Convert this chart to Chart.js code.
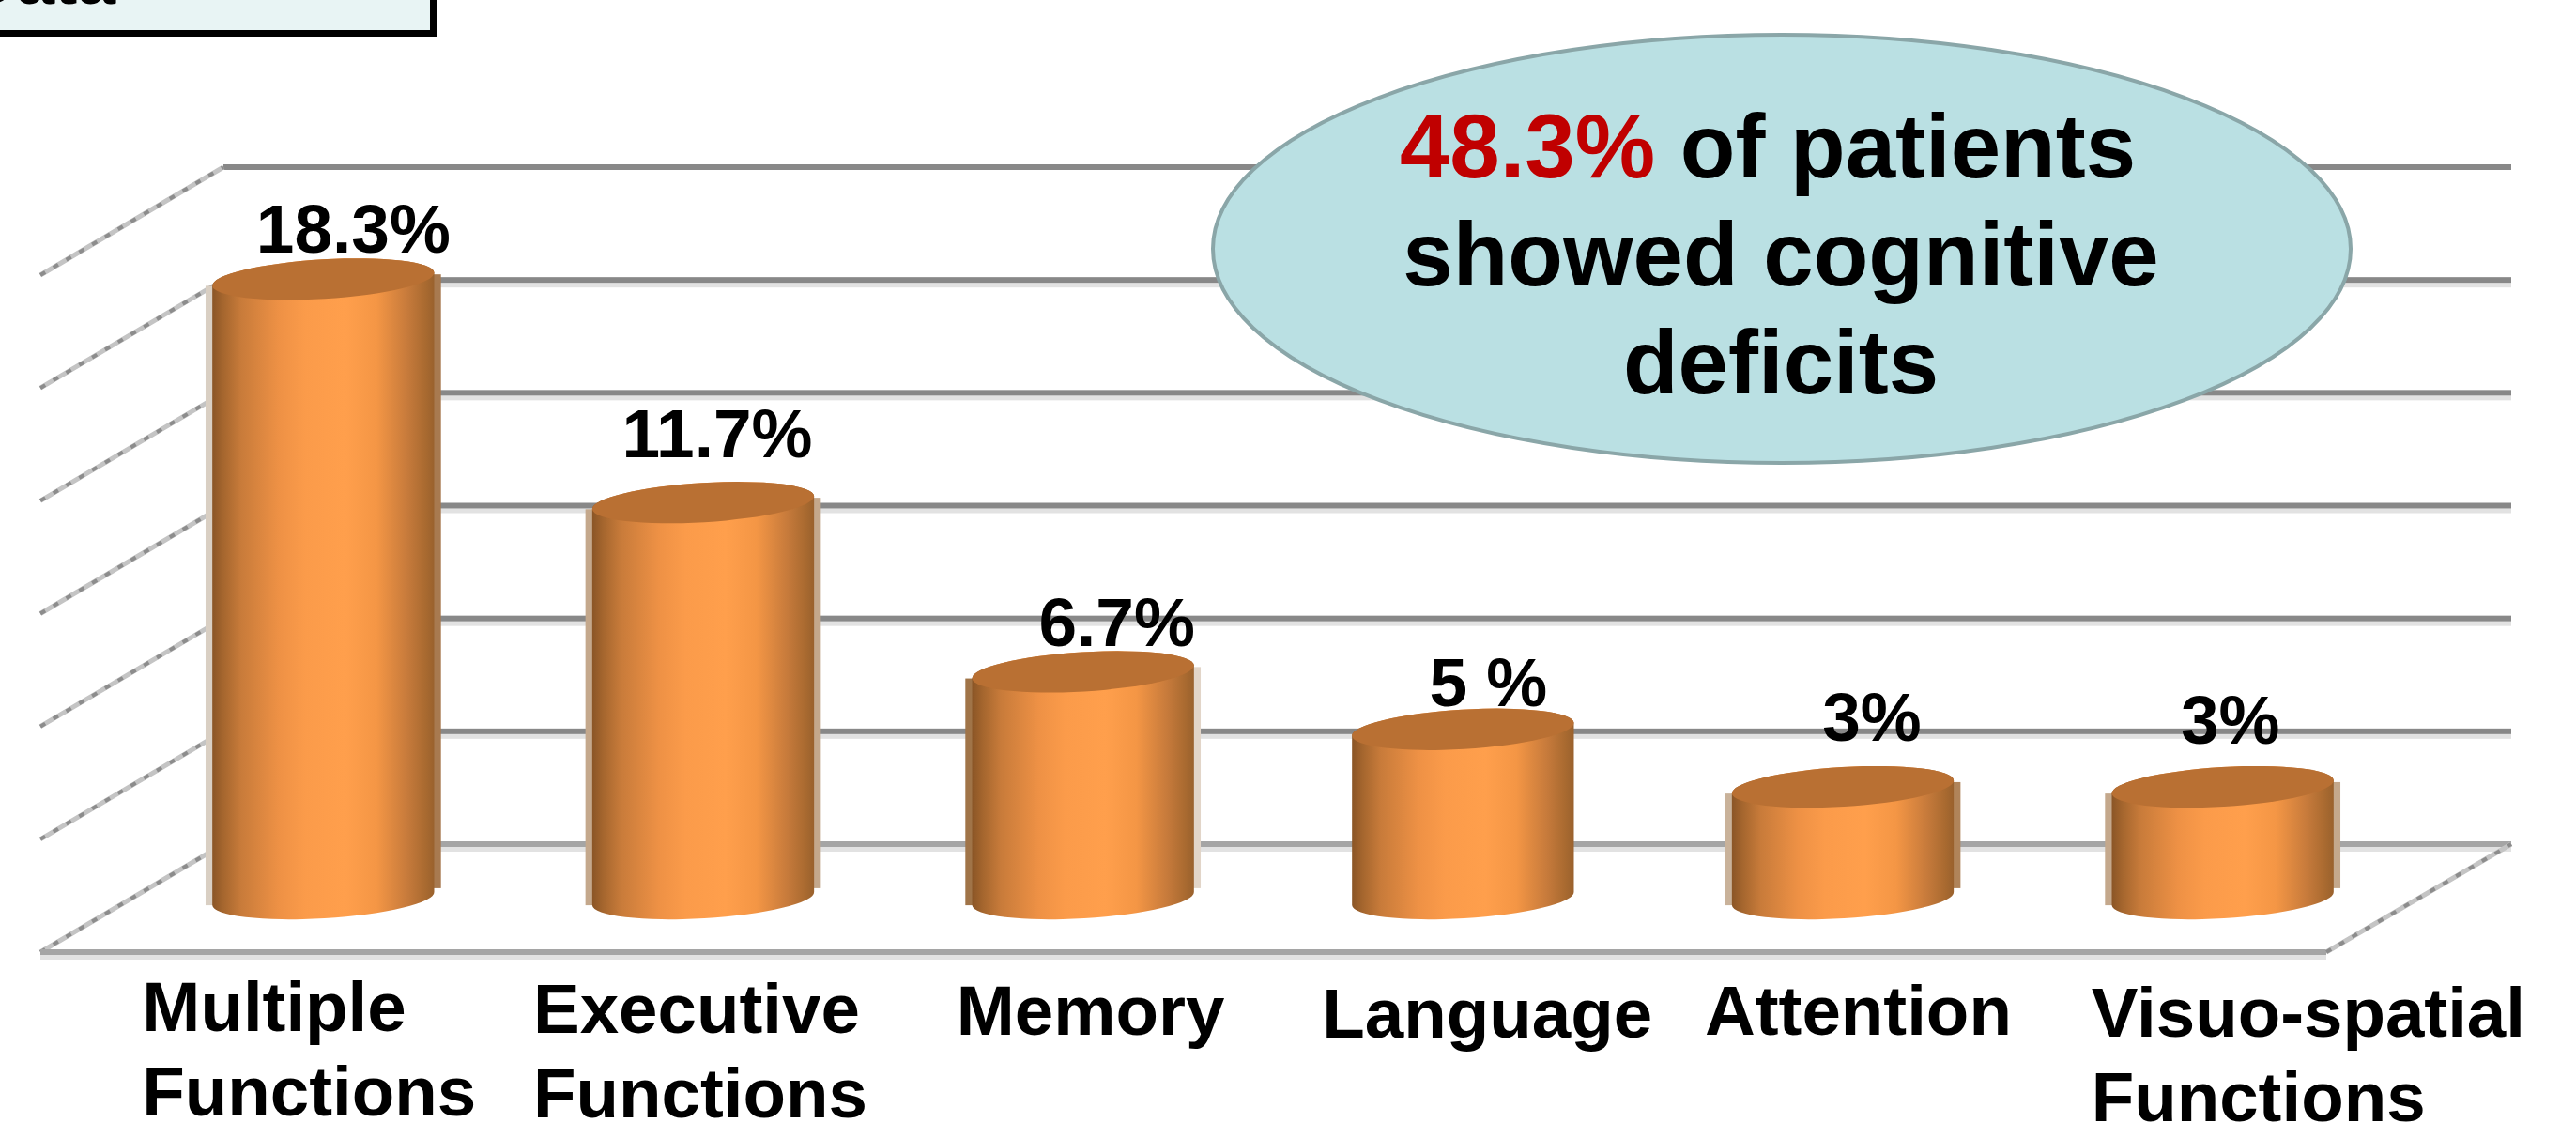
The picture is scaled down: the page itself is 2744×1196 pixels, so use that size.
<!DOCTYPE html>
<html>
<head>
<meta charset="utf-8">
<title>Cognitive deficits</title>
<script src="https://cdn.jsdelivr.net/npm/chart.js@4"></script>
<style>
    html, body { margin: 0; padding: 0; background: #fff; }
    canvas { display: block; }
</style>
</head>
<body>
<canvas id="chart" width="2744" height="1196"></canvas>
<script>
const categories = [['Multiple', 'Functions'], ['Executive', 'Functions'], ['Memory'], ['Language'], ['Attention'], ['Visuo-spatial', 'Functions']];
// the 3% columns are drawn about 3.3 high in the picture
const values = [18.3, 11.7, 6.7, 5, 3.3, 3.3];
const valueLabels = ['18.3%', '11.7%', '6.7%', '5 %', '3%', '3%'];
const noteLines = [[['48.3%', '#c00000'], [' of patients', '#000']], [['showed cognitive', '#000']], [['deficits', '#000']]];
const yMax = 20;
const yStep = 20 / 6;

// hand placed offsets, the source picture does not line these up with the bars
const valueShiftX = [32, 15, 36, 27, 31, 8];
const valueBaseline = [269, 487, 688, 752, 789, 792];
const tickShiftX = [-193, -181, -135, -150, -147, -140];
const tickBaseline = [1098, 1100, 1102, 1105, 1102, 1104];
const tickLineGap = 90;
const noteCenterX = [1883, 1897, 1897];
const haloLeft = ['#d9cfc3', '#c4a88c', '#a07448', null, '#c9b29a', '#c4a88c'];
const haloRight = ['#a87a50', '#c4a88c', '#e2d5c8', null, '#b0845a', '#c4a88c'];

const DEPTH_X = 195;
const DEPTH_Y = 115;
const BACK_LIFT = 58;
const WALL_LEFT = 238;
const WALL_RIGHT = 2675;
const CAP_RY = 21;
const CAP_TILT = -0.06;

function drawHLine(ctx, x1, x2, y, color, shadow) {
    if (shadow) {
        ctx.fillStyle = '#e2e2e2';
        ctx.fillRect(x1, y + 3, x2 - x1, 5);
    }
    ctx.fillStyle = color;
    ctx.fillRect(x1, y - 3, x2 - x1, 6);
}

function drawDiagonal(ctx, x1, y1, x2, y2) {
    ctx.save();
    ctx.lineWidth = 5;
    ctx.strokeStyle = '#c4c4c4';
    ctx.beginPath();
    ctx.moveTo(x1, y1);
    ctx.lineTo(x2, y2);
    ctx.stroke();
    ctx.lineWidth = 4;
    ctx.strokeStyle = '#8c8c8c';
    ctx.setLineDash([6, 10]);
    ctx.beginPath();
    ctx.moveTo(x1, y1);
    ctx.lineTo(x2, y2);
    ctx.stroke();
    ctx.restore();
}

function drawWalls(chart) {
    const { ctx } = chart;
    const y = chart.scales.y;
    y.ticks.forEach((tick, i) => {
        const py = y.getPixelForValue(tick.value) - BACK_LIFT;
        const isFloor = i === 0;
        drawHLine(ctx, WALL_LEFT, WALL_RIGHT, py, isFloor ? '#a5a5a5' : '#888', i !== y.ticks.length - 1);
        drawDiagonal(ctx, WALL_LEFT - DEPTH_X, py + DEPTH_Y, WALL_LEFT, py);
    });
    // floor front edge and right side
    const floorBack = y.getPixelForValue(0) - BACK_LIFT;
    drawHLine(ctx, WALL_LEFT - DEPTH_X, WALL_RIGHT - DEPTH_X - 2, floorBack + DEPTH_Y + 0, '#a5a5a5', true);
    drawDiagonal(ctx, WALL_RIGHT - DEPTH_X - 2, floorBack + DEPTH_Y, WALL_RIGHT, floorBack);
}

function drawCylinder(ctx, bar, i) {
    const { x, y, base, width } = bar;
    const rx = width / 2;
    const dy = rx * Math.sin(-CAP_TILT);

    if (haloLeft[i]) {
        ctx.fillStyle = haloLeft[i];
        ctx.fillRect(x - rx - 7, y + dy, 8, base - y);
    }
    if (haloRight[i]) {
        ctx.fillStyle = haloRight[i];
        ctx.fillRect(x + rx - 1, y - dy + 2, 8, base - y - 6);
    }

    const grad = ctx.createLinearGradient(x - rx, 0, x + rx, 0);
    grad.addColorStop(0, '#8a5526');
    grad.addColorStop(0.05, '#a5662e');
    grad.addColorStop(0.13, '#c87b3a');
    grad.addColorStop(0.3, '#ee9145');
    grad.addColorStop(0.42, '#fb9b4a');
    grad.addColorStop(0.6, '#ff9f4c');
    grad.addColorStop(0.74, '#f49645');
    grad.addColorStop(0.88, '#c67a3b');
    grad.addColorStop(0.96, '#a96a30');
    grad.addColorStop(1, '#99612d');

    ctx.fillStyle = grad;
    ctx.beginPath();
    ctx.ellipse(x, base, rx, CAP_RY, CAP_TILT, 0, Math.PI);
    ctx.ellipse(x, y, rx, CAP_RY, CAP_TILT, Math.PI, 0);
    ctx.closePath();
    ctx.fill();

    ctx.fillStyle = '#b97033';
    ctx.beginPath();
    ctx.ellipse(x, y, rx, CAP_RY, CAP_TILT, 0, Math.PI * 2);
    ctx.fill();
}

function drawText(chart) {
    const { ctx } = chart;
    const xScale = chart.scales.x;
    ctx.fillStyle = '#000';
    ctx.textBaseline = 'alphabetic';

    ctx.font = 'bold 73px "Liberation Sans"';
    ctx.textAlign = 'center';
    chart.getDatasetMeta(0).data.forEach((bar, i) => {
        ctx.fillText(valueLabels[i], bar.x + valueShiftX[i], valueBaseline[i]);
    });

    ctx.font = 'bold 74.5px "Liberation Sans"';
    ctx.textAlign = 'left';
    categories.forEach((lines, i) => {
        const px = xScale.getPixelForTick(i) + tickShiftX[i];
        lines.forEach((line, j) => ctx.fillText(line, px, tickBaseline[i] + j * tickLineGap));
    });
}

function drawNote(chart) {
    const { ctx } = chart;
    ctx.save();
    ctx.beginPath();
    ctx.ellipse(1898, 265, 606, 228, 0, 0, Math.PI * 2);
    ctx.fillStyle = '#bae0e3';
    ctx.fill();
    ctx.lineWidth = 4;
    ctx.strokeStyle = '#8aa6a8';
    ctx.stroke();

    ctx.font = 'bold 96px "Liberation Sans"';
    ctx.textAlign = 'left';
    ctx.textBaseline = 'alphabetic';
    noteLines.forEach((runs, i) => {
        const total = runs.reduce((sum, run) => sum + ctx.measureText(run[0]).width, 0);
        let px = noteCenterX[i] - total / 2;
        runs.forEach(([text, color]) => {
            ctx.fillStyle = color;
            ctx.fillText(text, px, 189 + i * 115);
            px += ctx.measureText(text).width;
        });
    });

    // the box cut off by the top edge of the picture
    ctx.fillStyle = '#e8f4f4';
    ctx.fillRect(-10, -10, 471.5, 45.5);
    ctx.lineWidth = 7;
    ctx.strokeStyle = '#000';
    ctx.strokeRect(-10, -10, 471.5, 45.5);
    ctx.fillStyle = '#000';
    ctx.textAlign = 'right';
    ctx.font = 'bold 73px "Liberation Sans"';
    ctx.fillText('Data', 123, 4);
    ctx.restore();
}

const cylinderPlugin = {
    id: 'cylinders',
    beforeDatasetsDraw(chart) {
        drawWalls(chart);
    },
    beforeDatasetDraw(chart, args) {
        chart.getDatasetMeta(args.index).data.forEach((bar, i) => drawCylinder(chart.ctx, bar, i));
        return false;
    },
    afterDatasetsDraw(chart) {
        drawText(chart);
        drawNote(chart);
    }
};

new Chart(document.getElementById('chart'), {
    type: 'bar',
    data: {
        labels: categories,
        datasets: [{
            label: 'Patients',
            data: values,
            backgroundColor: '#ff9f4c',
            categoryPercentage: 0.585,
            barPercentage: 1
        }]
    },
    options: {
        responsive: false,
        animation: false,
        layout: {
            padding: { left: 142, right: 174, top: 236, bottom: 239 }
        },
        plugins: {
            legend: { display: false },
            tooltip: { enabled: false }
        },
        scales: {
            x: { display: false, grid: { display: false } },
            y: {
                display: false,
                min: 0,
                max: yMax,
                ticks: { stepSize: yStep },
                grid: { display: false }
            }
        }
    },
    plugins: [cylinderPlugin]
});
</script>
</body>
</html>
